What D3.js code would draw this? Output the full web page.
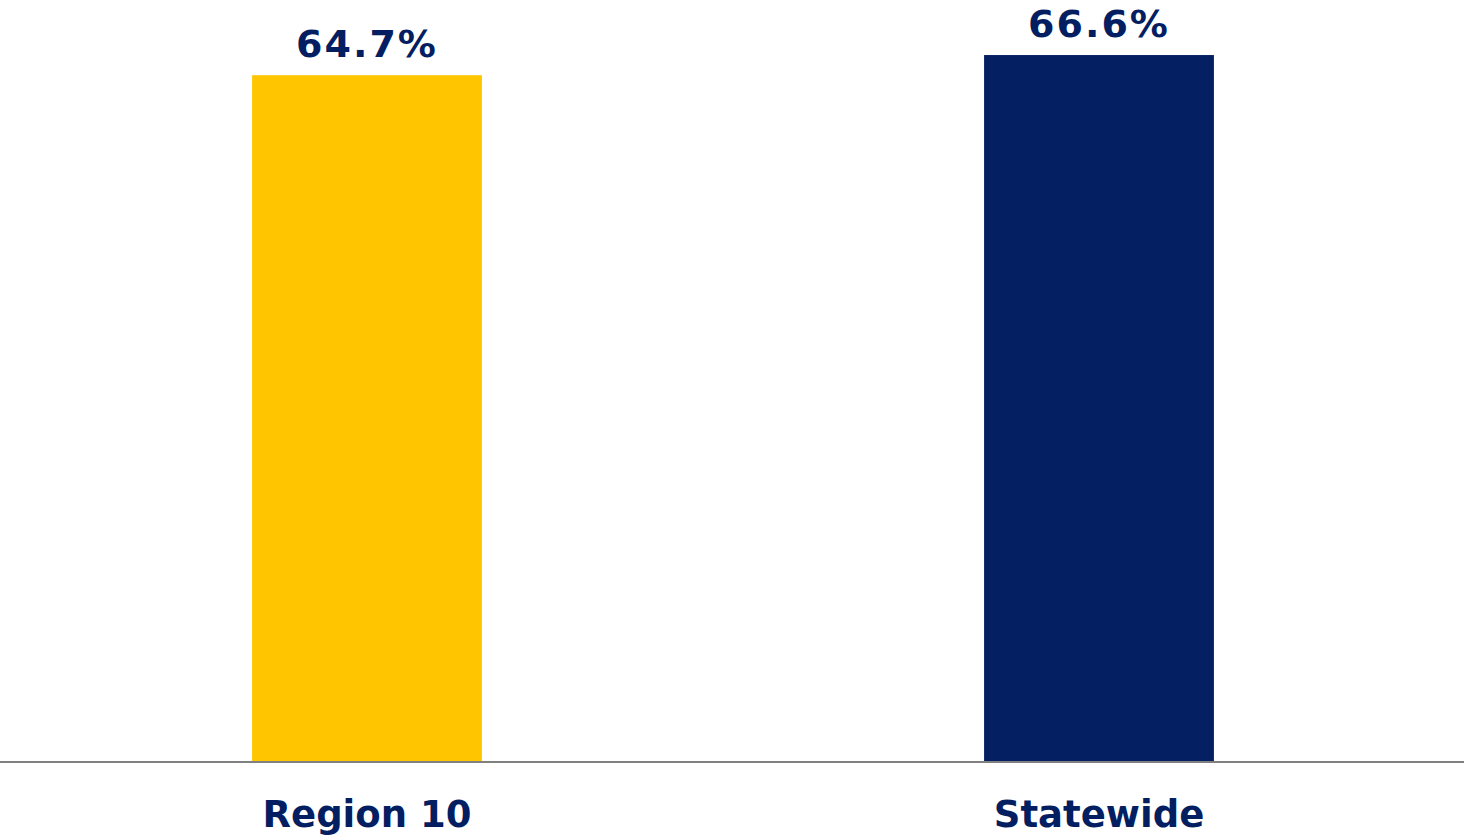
<!DOCTYPE html>
<html>
<head>
<meta charset="utf-8">
<script src="https://cdn.jsdelivr.net/npm/d3@7"></script>
<style>
  body { margin: 0; background: #fff; }
  text { font-family: "DejaVu Sans", Verdana, sans-serif; font-weight: bold; fill: #041e62; }
</style>
</head>
<body>
<div id="chart"></div>
<script>
var categories = ["Region 10", "Statewide"];
var values = [64.7, 66.6];
var colors = ["#ffc600", "#041f62"];

var width = 1464, height = 836;
var baseline = 761;

var svg = d3.select("#chart")
  .append("svg")
  .attr("width", width)
  .attr("height", height);

var x = d3.scaleBand()
  .domain(categories)
  .range([1, width + 1])
  .paddingInner(0.686)
  .paddingOuter(0.343);

var y = d3.scaleLinear()
  .domain([0, 70])
  .range([baseline, 19]);

// bars
svg.selectAll(".bar")
  .data(values)
  .enter()
  .append("rect")
  .attr("class", "bar")
  .attr("x", function (d, i) { return x(categories[i]); })
  .attr("y", function (d) { return y(d); })
  .attr("width", x.bandwidth())
  .attr("height", function (d) { return baseline - y(d); })
  .style("fill", function (d, i) { return colors[i]; });

// baseline
svg.append("line")
  .attr("x1", 0)
  .attr("x2", width)
  .attr("y1", baseline + 1)
  .attr("y2", baseline + 1)
  .style("stroke", "#808080")
  .style("stroke-width", 2);

// value labels
svg.selectAll(".val")
  .data(values)
  .enter()
  .append("text")
  .attr("class", "val")
  .attr("x", function (d, i) { return x(categories[i]) + x.bandwidth() / 2; })
  .attr("y", function (d) { return y(d) - 18; })
  .attr("text-anchor", "middle")
  .style("font-size", "38px")
  .style("letter-spacing", "2px")
  .text(function (d) { return d.toFixed(1) + "%"; });

// category labels
svg.selectAll(".cat")
  .data(categories)
  .enter()
  .append("text")
  .attr("class", "cat")
  .attr("x", function (d) { return x(d) + x.bandwidth() / 2; })
  .attr("y", 827)
  .attr("text-anchor", "middle")
  .style("font-size", "37px")
  .text(function (d) { return d; });
</script>
</body>
</html>
